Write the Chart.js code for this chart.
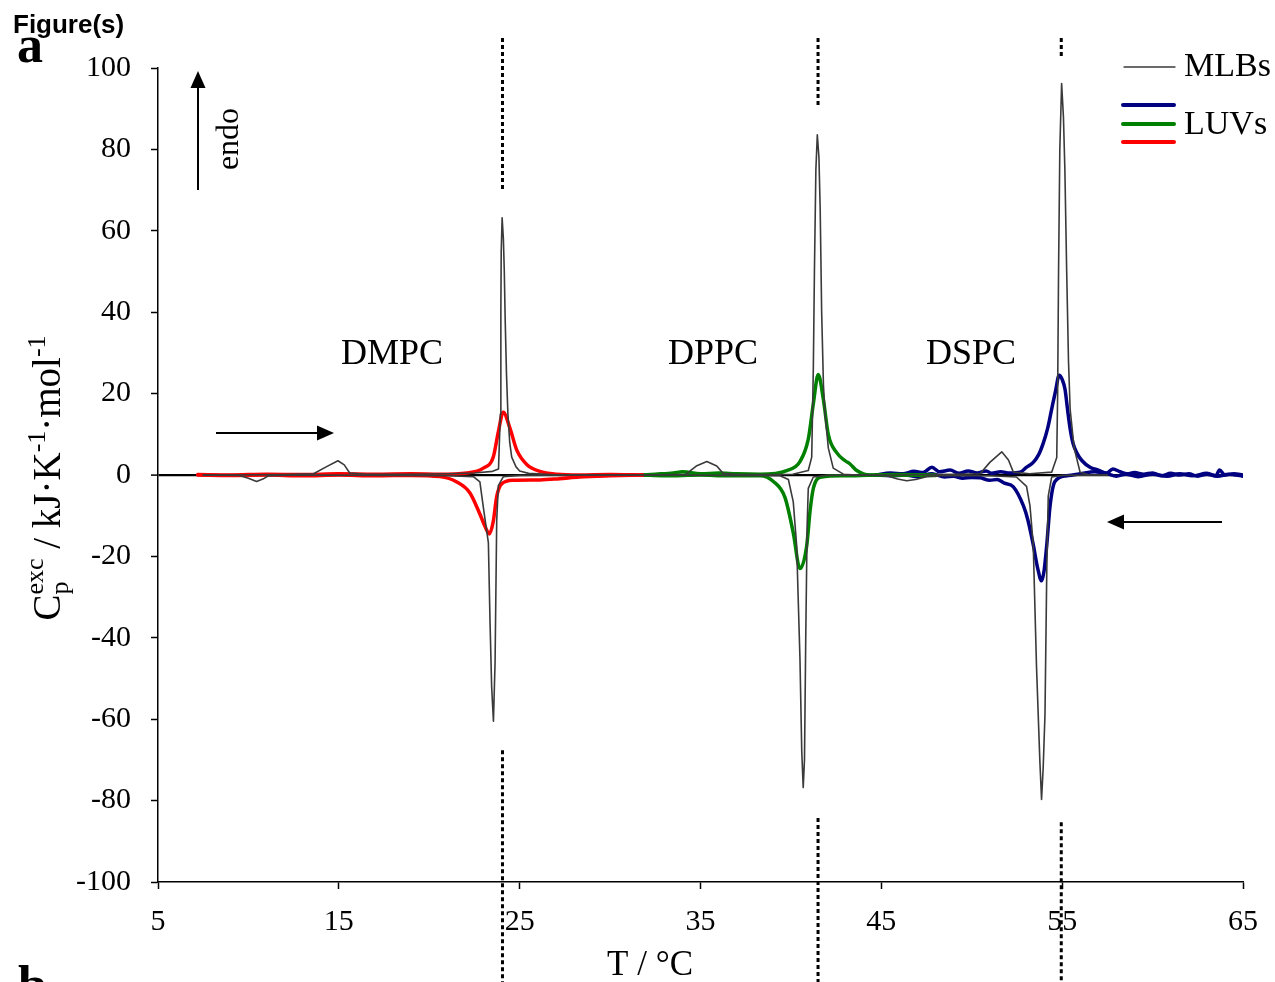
<!DOCTYPE html>
<html><head><meta charset="utf-8">
<script src="https://cdn.jsdelivr.net/npm/chart.js@4.4.1/dist/chart.umd.min.js"></script>
<style>html,body{margin:0;padding:0;background:#fff;} canvas{display:block;}</style>
</head><body>
<canvas id="c" width="1275" height="982"></canvas>
<script>
// ---------- DATA ----------
// MLBs heating scan (all three lipids, thin grey)
const T_MLB_HEAT = [7.5,9,12,13.6,14.3,14.95,15.3,15.6,16.5,19,21,22.5,23.5,23.83,23.93,23.96,23.98,24.03,24.1,24.15,24.2,24.27,24.35,24.45,24.56,24.8,25.0,25.5,26.7,28,32,34.2,34.8,35.35,35.9,36.25,37,39,40.1,40.96,41.15,41.24,41.3,41.38,41.46,41.55,41.62,41.7,41.8,41.88,42.07,42.34,42.9,43.6,46,49,50.46,51.0,51.66,52.03,52.3,53.2,54.42,54.7,54.75,54.8,54.87,54.97,55.07,55.15,55.25,55.35,55.44,55.66,55.99,56.5,57.5];
const CP_MLB_HEAT = [0,0,0.1,0.3,2,3.5,2.5,0.5,0.2,0.2,0.3,0.5,0.9,1.5,15,40,55,63.2,58,50,38,25,15,8,4.4,2,1.0,0.4,0.1,0,0,0.2,2.3,3.3,2.2,0.4,0.1,0.1,0.2,1.1,4.4,26.3,50,75,83.6,78,65,40,22,15.4,6.6,1.7,0.2,0,0,0.2,0.3,3.1,5.7,3.7,0.7,0.3,0.7,4.3,20,50,80,96.2,88,75,50,28,16.2,6.7,0.7,0,0];
// MLBs cooling scan
const T_MLB_COOL = [7.5,9.5,10.0,10.45,10.8,11.1,13,18,21,22.44,22.8,22.99,23.27,23.36,23.45,23.55,23.64,23.73,23.82,24.1,25,28,33,37,39.4,39.86,40.13,40.32,40.4,40.5,40.6,40.68,40.75,40.82,40.9,40.96,41.24,42,44,45.3,45.9,46.4,46.9,47.5,48.5,51,52.47,53.03,53.22,53.4,53.58,53.77,53.86,53.95,54.05,54.15,54.23,54.42,55,57.5];
const CP_MLB_COOL = [0,-0.1,-0.8,-1.6,-1.0,-0.2,0,-0.1,-0.2,-0.4,-1.7,-7.9,-16.7,-35.9,-52,-60.5,-46,-11.3,-2.6,-0.4,-0.1,0,0,-0.1,-0.2,-1.1,-6.6,-17.5,-30,-45,-68,-76.8,-70,-40,-12,-3.3,-0.5,-0.1,0,-0.2,-1.0,-1.4,-1.1,-0.4,-0.1,-0.2,-0.5,-2.8,-7.6,-17.1,-46.9,-70.7,-79.7,-72,-58.8,-23.1,-5.2,-0.5,-0.1,0];
// LUVs DMPC (red)
const T_DMPC_HEAT = [7.2,9,11,13,15,17,19,20.6,22.07,22.99,23.54,23.82,24.09,24.47,24.84,25.39,26.12,27.05,28.3,30,31.8];
const CP_DMPC_HEAT = [0.1,0,0.2,0.1,0.3,0.2,0.3,0.2,0.5,1.7,4.4,10.6,15.4,11.4,6.1,2.6,0.9,0.2,0,0.1,0];
const T_DMPC_COOL = [7.2,9,11,13,15,17,19,20.6,21.52,22.25,22.81,23.1,23.32,23.54,23.73,24.0,24.64,26.12,27.2,28.3,30,31.8];
const CP_DMPC_COOL = [0,-0.1,0,-0.2,0,-0.2,-0.1,-0.4,-1.7,-4.4,-9.7,-12.8,-14.5,-11.4,-5.3,-2.2,-1.3,-1.2,-0.9,-0.5,-0.2,0];
// LUVs DPPC (green)
const T_DPPC_HEAT = [31.8,32.5,33.5,34,35,36,37,38.3,39.77,40.5,40.96,41.24,41.51,41.79,42.07,42.53,43.0,43.27,43.64,44.37,46,48];
const CP_DPPC_HEAT = [0,0.2,0.5,0.8,0.3,0.5,0.3,0.2,1.1,3.3,8.8,17.5,24.7,18.7,9.9,5.5,3.5,2.7,1.1,0,0.1,0];
const T_DPPC_COOL = [31.8,33,35,36.5,38.3,39.03,39.67,40.13,40.5,40.87,41.06,41.24,41.7,42.9,45,48];
const CP_DPPC_COOL = [0,-0.2,0,-0.2,-0.2,-1.6,-5.5,-14.2,-23,-17.5,-8.8,-3.3,-0.5,-0.2,0,-0.1];
// LUVs DSPC (navy)
const T_DSPC_HEAT = [44.7,45.5,46.2,46.8,47.3,47.8,48.2,48.8,49.3,49.8,50.3,50.8,51.1,51.6,52.1,52.67,53.0,53.4,53.7,53.96,54.2,54.42,54.65,54.83,55.0,55.16,55.3,55.44,55.6,55.8,56.1,56.54,57.0,57.46,57.8,58.2,58.6,59,59.5,60,60.5,61,61.5,62,62.5,63,63.5,63.7,64,64.5,65];
const CP_DSPC_HEAT = [0,0.5,0.3,0.9,0.6,1.9,0.8,1.2,0.4,1.0,0.5,1.0,0.4,0.8,0.5,0.7,1.8,3.1,5,7.9,11.5,16.2,21,24.5,23.5,21,16,11.4,7.8,5.5,3.5,1.9,1.2,0.5,1.5,0.8,0.3,0.6,0.2,0.5,-0.2,0.4,0,0.3,-0.3,0.2,-0.2,1.2,0,0.3,0];
const T_DSPC_COOL = [44.7,45.5,46.3,47,47.8,48.5,49,49.5,50,50.46,51.0,51.4,51.8,52.3,52.86,53.1,53.4,53.65,53.86,54.0,54.15,54.33,54.6,55.25,56,56.8,57.5,58,58.5,59.2,60,60.8,61.5,62.2,63,63.6,64.2,65];
const CP_DSPC_COOL = [0,-0.2,0,-0.4,0.3,-0.5,-0.3,-0.8,-0.6,-0.7,-1.3,-1.1,-2.0,-2.9,-7.6,-11,-17.1,-23,-26,-23.5,-17.1,-7.6,-1.6,-0.2,0.3,0.8,0.3,-0.3,0.2,-0.4,0.2,-0.3,0.3,-0.2,0.4,-0.3,0.2,-0.3];
// Transition temperatures (dotted markers) and axis ticks
const T_TRANSITIONS = [24.05, 41.5, 54.95];
const LIPIDS = ['DMPC', 'DPPC', 'DSPC'];
const X_TICKS = [5, 15, 25, 35, 45, 55, 65];
const Y_TICKS = [-100, -80, -60, -40, -20, 0, 20, 40, 60, 80, 100];

// ---------- CHART ----------
const SERIF = '"Liberation Serif","Times New Roman",serif';
const SANS = '"Liberation Sans",Arial,sans-serif';
const pts = (xs, ys) => xs.map((x, i) => ({x: x, y: ys[i]}));
const GREY = '#3a3a3a', RED = '#ff0000', GREEN = '#008000', NAVY = '#000080';

function ds(label, xs, ys, color, w, smooth) {
  return {label, data: pts(xs, ys), borderColor: color, borderWidth: w, pointRadius: 0,
    fill: false, tension: 0, cubicInterpolationMode: smooth ? 'monotone' : 'default',
    borderJoinStyle: 'round', borderCapStyle: 'round'};
}

const overlay = {
  id: 'overlay',
  afterDraw(chart) {
    const ctx = chart.ctx, xs = chart.scales.x, ys = chart.scales.y;
    ctx.save();
    // dotted transition markers
    const segs = [[[107.4, 70], [-67.6, -125]], [[107.4, 90.9], [-84.3, -125]], [[107.4, 102.5], [-85.3, -125]]];
    ctx.strokeStyle = '#000'; ctx.lineWidth = 3; ctx.setLineDash([4, 3]);
    T_TRANSITIONS.forEach((t, i) => {
      const px = xs.getPixelForValue(t);
      segs[i].forEach(s => {
        ctx.beginPath(); ctx.moveTo(px, ys.getPixelForValue(s[0])); ctx.lineTo(px, ys.getPixelForValue(s[1])); ctx.stroke();
      });
    });
    ctx.setLineDash([]);
    // lipid labels
    ctx.fillStyle = '#000'; ctx.textAlign = 'center'; ctx.textBaseline = 'middle';
    ctx.font = '36px ' + SERIF;
    const lp = [[17.94, 29.5], [35.69, 29.5], [49.96, 29.5]];
    LIPIDS.forEach((n, i) => ctx.fillText(n, xs.getPixelForValue(lp[i][0]), ys.getPixelForValue(lp[i][1])));
    // arrows
    function arrow(x1, y1, x2, y2) {
      const a = Math.atan2(y2 - y1, x2 - x1), hl = 17, hw = 7.5;
      const bx = x2 - hl * Math.cos(a), by = y2 - hl * Math.sin(a);
      ctx.lineWidth = 2; ctx.beginPath(); ctx.moveTo(x1, y1); ctx.lineTo(bx, by); ctx.stroke();
      ctx.beginPath(); ctx.moveTo(x2, y2);
      ctx.lineTo(bx + hw * Math.sin(a), by - hw * Math.cos(a));
      ctx.lineTo(bx - hw * Math.sin(a), by + hw * Math.cos(a));
      ctx.closePath(); ctx.fill();
    }
    arrow(198, 190, 198, 71);
    arrow(216, 433, 334, 433);
    arrow(1222, 522, 1107, 522);
    // endo
    ctx.save(); ctx.translate(230, 139); ctx.rotate(-Math.PI / 2);
    ctx.font = '32px ' + SERIF; ctx.textAlign = 'center'; ctx.textBaseline = 'middle';
    ctx.fillText('endo', 0, 0); ctx.restore();
    // legend
    ctx.lineCap = 'round';
    ctx.strokeStyle = GREY; ctx.lineWidth = 1.3;
    ctx.beginPath(); ctx.moveTo(1124, 67); ctx.lineTo(1175, 67); ctx.stroke();
    [[NAVY, 105], [GREEN, 124], [RED, 142]].forEach(l => {
      ctx.strokeStyle = l[0]; ctx.lineWidth = 4;
      ctx.beginPath(); ctx.moveTo(1123, l[1]); ctx.lineTo(1174, l[1]); ctx.stroke();
    });
    ctx.font = '34px ' + SERIF; ctx.textAlign = 'left'; ctx.textBaseline = 'middle';
    ctx.fillText('MLBs', 1184, 67);
    ctx.fillText('LUVs', 1184, 125);
    // x title
    ctx.textAlign = 'center'; ctx.font = '35px ' + SERIF;
    ctx.fillText('T / \u00B0C', 650, 966);
    // y title with sub/superscripts
    ctx.save(); ctx.translate(47, 478); ctx.rotate(-Math.PI / 2);
    ctx.textBaseline = 'alphabetic'; ctx.textAlign = 'left';
    const big = '39px ' + SERIF, small = '26px ' + SERIF;
    const parts = [
      {t: 'C', f: big, dy: 0},
      {t: 'p', f: small, dy: 8, stack: 'exc'},
      {t: ' / kJ\u00B7K', f: big, dy: 0},
      {t: '-1', f: small, dy: -15},
      {t: '\u00B7mol', f: big, dy: 0},
      {t: '-1', f: small, dy: -15}
    ];
    let total = 0;
    parts.forEach(p => {
      ctx.font = p.f; let w = ctx.measureText(p.t).width;
      if (p.stack) { w = Math.max(w, ctx.measureText(p.stack).width); }
      p.w = w; total += w;
    });
    let u = -total / 2; const base = 13;
    parts.forEach(p => {
      ctx.font = p.f;
      ctx.fillText(p.t, u, base + p.dy);
      if (p.stack) ctx.fillText(p.stack, u, base - 17);
      u += p.w;
    });
    ctx.restore();
    // panel letters
    ctx.textAlign = 'left'; ctx.textBaseline = 'alphabetic';
    ctx.font = 'bold 26px ' + SANS; ctx.fillText('Figure(s)', 13, 33);
    ctx.font = 'bold 52px ' + SERIF; ctx.fillText('a', 17, 62);
    ctx.fillText('b', 18, 1002);
    ctx.restore();
  }
};

new Chart(document.getElementById('c'), {
  type: 'line',
  data: {
    datasets: [
      ds('MLBs heating', T_MLB_HEAT, CP_MLB_HEAT, GREY, 1.6, false),
      ds('MLBs cooling', T_MLB_COOL, CP_MLB_COOL, GREY, 1.6, false),
      ds('DMPC LUVs heating', T_DMPC_HEAT, CP_DMPC_HEAT, RED, 3.5, true),
      ds('DMPC LUVs cooling', T_DMPC_COOL, CP_DMPC_COOL, RED, 3.5, true),
      ds('DPPC LUVs heating', T_DPPC_HEAT, CP_DPPC_HEAT, GREEN, 3.5, true),
      ds('DPPC LUVs cooling', T_DPPC_COOL, CP_DPPC_COOL, GREEN, 3.5, true),
      ds('DSPC LUVs heating', T_DSPC_HEAT, CP_DSPC_HEAT, NAVY, 3.5, true),
      ds('DSPC LUVs cooling', T_DSPC_COOL, CP_DSPC_COOL, NAVY, 3.5, true)
    ]
  },
  options: {
    responsive: false, animation: false, events: [],
    layout: {padding: {left: 0, top: 68, right: 32, bottom: 0}},
    plugins: {legend: {display: false}, tooltip: {enabled: false}},
    scales: {
      x: {
        type: 'linear', min: 5, max: 65,
        afterBuildTicks: s => { s.ticks = X_TICKS.map(v => ({value: v})); },
        afterFit: s => { s.height = 100; },
        border: {color: '#000', width: 1.5},
        grid: {drawOnChartArea: false, color: '#000', tickLength: 7, tickWidth: 1.5},
        ticks: {color: '#000', font: {family: SERIF, size: 30}, padding: 15, maxRotation: 0}
      },
      y: {
        min: -100, max: 100,
        afterBuildTicks: s => { s.ticks = Y_TICKS.map(v => ({value: v})); },
        afterFit: s => { s.width = 158; },
        border: {color: '#000', width: 1.5},
        grid: {
          drawOnChartArea: true, tickLength: 7, tickWidth: 1.5, tickColor: '#000',
          color: c => (c.tick && c.tick.value === 0) ? '#000' : 'rgba(0,0,0,0)',
          lineWidth: c => (c.tick && c.tick.value === 0) ? 2.2 : 1
        },
        ticks: {color: '#000', font: {family: SERIF, size: 30}, padding: 20}
      }
    }
  },
  plugins: [overlay]
});
</script></body></html>
